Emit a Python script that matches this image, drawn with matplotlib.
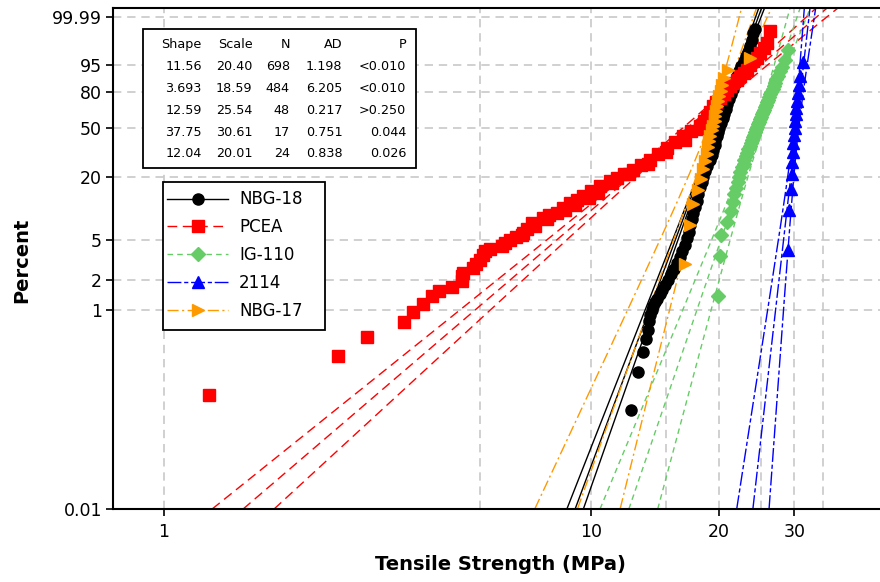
import numpy as np
import matplotlib
matplotlib.use("Agg")
import matplotlib.pyplot as plt
from matplotlib.patches import Rectangle

# ---------------- data ----------------
series_names = ["NBG-18", "PCEA", "IG-110", "2114", "NBG-17"]
shape = [11.56, 3.693, 12.59, 37.75, 12.04]
shape_text = ["11.56", "3.693", "12.59", "37.75", "12.04"]
scale = [20.40, 18.59, 25.54, 30.61, 20.01]
n_obs = [698, 484, 48, 17, 24]
ad_stat = ["1.198", "6.205", "0.217", "0.751", "0.838"]
p_value = ["<0.010", "<0.010", ">0.250", "0.044", "0.026"]
table_header = ["Shape", "Scale", "N", "AD", "P"]

nbg18_pct = [0.10, 0.24, 0.38, 0.52, 0.64, 0.78, 0.90, 1.0, 1.1, 1.2, 1.3, 1.45, 1.6, 1.8,
             2.0, 2.3, 2.6, 3.0, 3.4, 3.9, 4.5, 5.2, 6.0, 7.0, 8.0, 9.2, 10.5, 12, 14, 16,
             18, 20, 22.5, 25, 28, 31, 34, 37, 40, 43.5, 47, 50, 54, 58, 62, 66, 70, 74,
             78, 82, 86, 89.9, 92.5, 94.5, 96.3, 97.5, 98.3, 99.0, 99.5, 99.8, 99.9]
nbg18_mpa = [12.43, 12.88, 13.24, 13.45, 13.60, 13.69, 13.77, 13.9, 14.0, 14.15, 14.3, 14.5,
             14.7, 14.95, 15.15, 15.4, 15.65, 15.95, 16.2, 16.4, 16.6, 16.8, 16.95, 17.1,
             17.25, 17.4, 17.55, 17.7, 17.85, 18.0, 18.2, 18.35, 18.55, 18.75, 19.0, 19.2,
             19.35, 19.5, 19.6, 19.75, 19.9, 20.0, 20.2, 20.4, 20.55, 20.7, 20.9, 21.1,
             21.3, 21.5, 21.75, 22.0, 22.3, 22.55, 22.85, 23.1, 23.3, 23.6, 23.85, 24.05, 24.3]

pcea_pct = [0.14, 0.35, 0.54, 0.76, 0.97, 1.17, 1.38, 1.56, 1.73, 1.96, 2.2, 2.39, 2.64, 2.9,
            3.2, 3.55, 3.87, 4.09, 4.34, 4.7, 5.05, 5.4, 5.87, 6.5, 7.36, 8.2, 8.7, 9.2, 10.2,
            11.4, 12.3, 13.2, 14.8, 16.4, 18.2, 19.5, 21.3, 23.2, 25.5, 28.2, 31.5, 35.4,
            39.5, 43.5, 47.5, 51.5, 55.5, 59.5, 63.5, 68.1, 71.5, 75.1, 78.5, 81.6, 84.0,
            86.1, 88.0, 89.9, 91.6, 93.2, 94.8, 96.2, 97.1, 98.1, 98.8, 99.3, 99.86,
            5.6, 6.9, 8.0, 9.8, 11.0, 12.8, 14.3, 17.5, 21.0, 26.0, 33.0, 41.0, 49.0, 57.0]
pcea_mpa = [1.28, 2.56, 3.0, 3.66, 3.84, 4.06, 4.24, 4.42, 4.73, 4.99, 5.0, 5.03, 5.31, 5.4,
            5.51, 5.6, 5.66, 5.81, 6.19, 6.3, 6.47, 6.7, 6.95, 7.1, 7.28, 7.74, 8.0, 8.32, 8.6,
            8.94, 9.3, 9.61, 10.0, 10.5, 11.1, 11.5, 12.0, 12.58, 13.1, 13.77, 14.4, 15.07,
            15.8, 16.48, 17.2, 18.03, 18.4, 18.69, 19.0, 19.37, 19.7, 20.08, 20.5, 20.83, 21.2,
            21.58, 22.0, 22.37, 22.8, 23.2, 23.6, 24.04, 24.48, 24.92, 25.4, 25.84, 26.3,
            6.9, 7.4, 7.9, 8.7, 9.2, 9.9, 10.4, 11.2, 12.3, 13.6, 15.0, 16.6, 18.0, 19.0]

ig110_pct = [1.4, 3.5, 5.6, 7.6, 9.7, 11.8, 13.8, 15.9, 18.0, 20.0, 22.1, 24.2, 26.2, 28.3,
             30.4, 32.4, 34.5, 36.6, 38.6, 40.7, 42.8, 44.8, 46.9, 49.0, 51.0, 53.1, 55.2,
             57.2, 59.3, 61.4, 63.4, 65.5, 67.6, 69.6, 71.7, 73.8, 75.8, 77.9, 80.0, 82.0,
             84.1, 86.2, 88.2, 90.3, 92.4, 94.4, 96.5, 98.6]
ig110_mpa = [19.9, 20.1, 20.15, 20.9, 21.3, 21.5, 21.7, 21.9, 22.1, 22.3, 22.4, 22.6, 22.8,
             22.9, 23.1, 23.2, 23.4, 23.6, 23.7, 23.85, 24.0, 24.1, 24.25, 24.4, 24.5, 24.65,
             24.8, 24.95, 25.1, 25.2, 25.35, 25.5, 25.65, 25.75, 25.85, 26.0, 26.2, 26.35,
             26.5, 26.7, 26.9, 27.0, 27.2, 27.4, 27.7, 28.0, 28.5, 29.0]

s2114_pct = [4.0, 9.8, 15.5, 21.3, 27.0, 32.8, 38.5, 44.3, 50.0, 55.7, 61.5, 67.2, 73.0,
             78.7, 84.5, 90.2, 96.0]
s2114_mpa = [29.0, 29.2, 29.4, 29.55, 29.65, 29.75, 29.85, 29.95, 30.05, 30.1, 30.2, 30.3,
             30.45, 30.6, 30.75, 31.0, 31.5]

nbg17_pct = [2.9, 7.0, 11.1, 15.2, 19.3, 23.4, 27.5, 31.6, 35.7, 39.8, 43.9, 48.0, 52.0,
             56.1, 60.2, 64.3, 68.4, 72.5, 76.6, 80.7, 84.8, 88.9, 93.0, 97.1]
nbg17_mpa = [16.6, 17.1, 17.4, 17.8, 18.1, 18.3, 18.5, 18.7, 18.8, 18.9, 19.05, 19.2, 19.35,
             19.5, 19.6, 19.7, 19.8, 19.9, 20.0, 20.15, 20.3, 20.5, 21.0, 23.6]

y_ticks = [0.01, 1, 2, 5, 20, 50, 80, 95, 99.99]
y_ticklabels = ["0.01", "1", "2", "5", "20", "50", "80", "95", "99.99"]
x_ticks = [1, 10, 20, 30]
x_ticklabels = ["1", "10", "20", "30"]
x_grid = [1, 5.5, 10, 15, 20, 25, 30, 35]

# ---------------- styles ----------------
colors = ["#000000", "#FF0000", "#66CC66", "#0000FF", "#FF9900"]
markers = ["o", "s", "D", "^", ">"]
msizes = [8, 8.5, 7.5, 8.5, 8.5]
lstyles = ["-", (0, (7, 4)), (0, (4, 3)), (0, (10, 2, 3, 2)), (0, (8, 2.5, 1.5, 2.5))]
data_pct = [nbg18_pct, pcea_pct, ig110_pct, s2114_pct, nbg17_pct]
data_mpa = [nbg18_mpa, pcea_mpa, ig110_mpa, s2114_mpa, nbg17_mpa]


def fwd(p):
    p = np.clip(np.asarray(p, dtype=float) / 100.0, 1e-15, 1 - 1e-15)
    return np.log(-np.log1p(-p))


def inv(w):
    return -np.expm1(-np.exp(np.asarray(w, dtype=float))) * 100.0


W = 880
H = 582
fig = plt.figure(figsize=(W / 100, H / 100), dpi=100)
ax_l, ax_r, ax_t, ax_b = 113, 885, 7.5, 509
ax = fig.add_axes([ax_l / W, 1 - ax_b / H, (ax_r - ax_l) / W, (ax_b - ax_t) / H])
ax.set_xscale("log")
ax.set_yscale("function", functions=(fwd, inv))
w_top = 2.43
ax.set_xlim(0.761, 48.9)
ax.set_ylim(0.01, float(inv(w_top)))

# gridlines
for gx in x_grid:
    ax.axvline(gx, color="#C8C8C8", lw=1.2, ls=(0, (5, 3.5)), zorder=0)
for gy in y_ticks[1:]:
    ax.axhline(gy, color="#C8C8C8", lw=1.2, ls=(0, (5, 3.5)), zorder=0)

# fitted lines and confidence bands
wv = np.linspace(float(fwd(0.01)), w_top, 300)
pct_line = inv(wv)
for i in range(5):
    b = 1.0 / shape[i]
    u = np.log(scale[i])
    yp = u + wv * b
    se = b * np.sqrt((1.1087 + 0.5140 * wv + 0.6079 * wv ** 2) / n_obs[i])
    for k in (-1, 0, 1):
        ax.plot(np.exp(yp + k * 1.96 * se), pct_line, color=colors[i], lw=1.0,
                ls=lstyles[i], zorder=2 + i * 0.1)

# data points
for i in range(5):
    ax.plot(data_mpa[i], data_pct[i], ls="none", marker=markers[i], ms=msizes[i],
            color=colors[i], mec=colors[i], zorder=5 + i * 0.1)

ax.set_xticks(x_ticks)
ax.set_xticklabels(x_ticklabels)
ax.xaxis.set_minor_locator(matplotlib.ticker.NullLocator())
ax.set_yticks(y_ticks)
ax.set_yticklabels(y_ticklabels)
ax.yaxis.set_minor_locator(matplotlib.ticker.NullLocator())
ax.tick_params(axis="both", direction="out", length=5, width=1.2, labelsize=12.5, pad=3,
               colors="black")
ax.tick_params(axis="x", pad=5)
for s in ("left", "bottom", "top", "right"):
    ax.spines[s].set_linewidth(1.5)
    ax.spines[s].set_color("black")

ax.set_xlabel("Tensile Strength (MPa)", fontsize=14, fontweight="bold")
ax.set_ylabel("Percent", fontsize=14, fontweight="bold")
ax.xaxis.set_label_coords((500 - ax_l) / (ax_r - ax_l), (ax_b - 555) / (ax_b - ax_t))
ax.yaxis.set_label_coords((31 - ax_l) / (ax_r - ax_l), (ax_b - 260) / (ax_b - ax_t))


def fx(px):
    return px / W


def fy(py):
    return 1 - py / H


# statistics table
ax.add_patch(Rectangle((fx(143.3), fy(167.7)), fx(416) - fx(143.3), fy(29.3) - fy(167.7),
                       transform=fig.transFigure, fill=True, fc="white", ec="black",
                       lw=1.3, zorder=10, clip_on=False))
col_right = [201.7, 252.3, 290, 342.3, 406]
row_y0 = 44.5
row_dy = 21.9
for j, h in enumerate(table_header):
    ax.text(fx(col_right[j]), fy(row_y0), h, ha="right", va="center", fontsize=9.2,
            zorder=11, transform=fig.transFigure)
for i in range(5):
    vals = [shape_text[i], "%.2f" % scale[i], str(n_obs[i]), ad_stat[i], p_value[i]]
    for j, v in enumerate(vals):
        ax.text(fx(col_right[j]), fy(row_y0 + row_dy * (i + 1)), v, ha="right", va="center",
                fontsize=9.2, zorder=11, transform=fig.transFigure)

# legend
ax.add_patch(Rectangle((fx(162.7), fy(330)), fx(325) - fx(162.7), fy(182.3) - fy(330),
                       transform=fig.transFigure, fill=True, fc="white", ec="black",
                       lw=1.3, zorder=10, clip_on=False))
handles = []
for i in range(5):
    h, = ax.plot([], [], color=colors[i], ls=lstyles[i], lw=1.0, marker=markers[i],
                 ms=msizes[i], mec=colors[i])
    handles.append(h)
leg = ax.legend(handles, series_names, loc="upper left", bbox_to_anchor=(fx(167), fy(190.5)),
                bbox_transform=fig.transFigure, frameon=False, borderpad=0, borderaxespad=0,
                handlelength=3.66, handletextpad=0.66, labelspacing=0.59, fontsize=12,
                numpoints=1)
leg.set_zorder(12)

fig.savefig("out.png", dpi=100)
